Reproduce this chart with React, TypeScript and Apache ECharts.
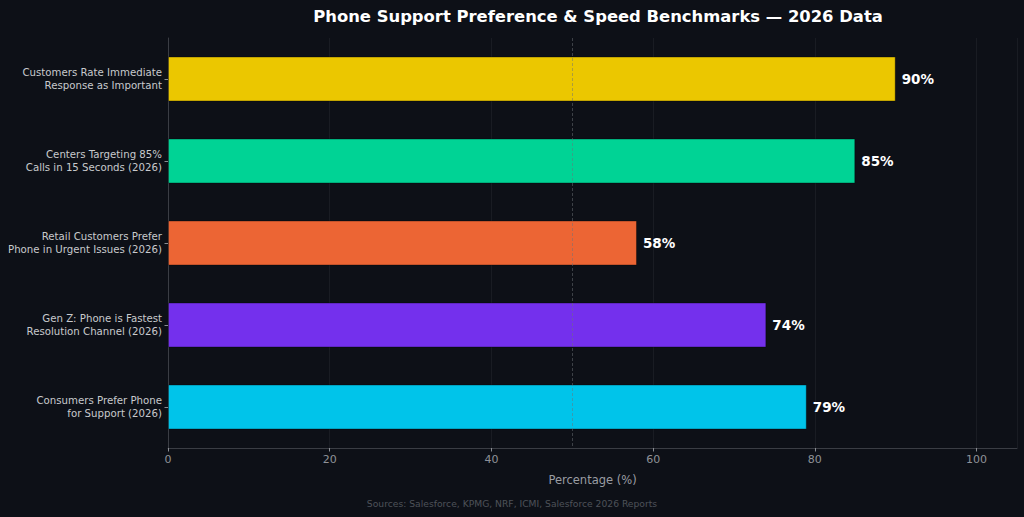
import React, { useEffect, useRef } from "react";
import * as echarts from "echarts";

const categories = [
  "Customers Rate Immediate\nResponse as Important",
  "Centers Targeting 85%\nCalls in 15 Seconds (2026)",
  "Retail Customers Prefer\nPhone in Urgent Issues (2026)",
  "Gen Z: Phone is Fastest\nResolution Channel (2026)",
  "Consumers Prefer Phone\nfor Support (2026)",
];
const values = [90, 85, 58, 74, 79];
const colors = ["#ebc700", "#00d395", "#ec6534", "#7430ed", "#00c4ea"];
const xTicks = [0, 20, 40, 60, 80, 100];
const referenceValue = 50;
const titleText = "Phone Support Preference & Speed Benchmarks — 2026 Data";
const xAxisTitle = "Percentage (%)";
const sourceText = "Sources: Salesforce, KPMG, NRF, ICMI, Salesforce 2026 Reports";

const FONT = "DejaVu Sans, sans-serif";

export default function App() {
  const ref = useRef<HTMLDivElement>(null);
  useEffect(() => {
    document.body.style.margin = "0";
    const chart = echarts.init(ref.current!, null, { renderer: "svg" });
    chart.setOption({
      animation: false,
      backgroundColor: "#0d1017",
      textStyle: { fontFamily: FONT },
      title: {
        text: titleText,
        left: 593,
        top: 3,
        textAlign: "center",
        textStyle: { color: "#ffffff", fontSize: 16.4, fontWeight: "bold", fontFamily: FONT },
      },
      grid: { left: 168, right: 7, top: 38, bottom: 69, containLabel: false, outerBoundsMode: "none" },
      xAxis: {
        type: "value",
        min: 0,
        max: 105,
        interval: 20,
        name: xAxisTitle,
        nameLocation: "middle",
        nameGap: 26,
        nameTextStyle: { color: "#9a9da3", fontSize: 11.5, fontFamily: FONT },
        axisLine: { show: true, lineStyle: { color: "#3a3d44", width: 1 } },
        axisTick: { show: true, length: 3.5, lineStyle: { color: "#8a8d93" } },
        axisLabel: {
          color: "#8f9298",
          fontSize: 11,
          margin: 6,
          showMaxLabel: false,
          fontFamily: FONT,
          formatter: (v: number) => (xTicks.includes(v) ? String(v) : ""),
        },
        splitLine: { show: true, lineStyle: { color: "#191c23", width: 1 } },
      },
      yAxis: {
        type: "category",
        data: categories,
        inverse: true,
        axisLine: { show: true, lineStyle: { color: "#3a3d44", width: 1 } },
        axisTick: { show: true, alignWithLabel: true, length: 3.5, lineStyle: { color: "#8a8d93" } },
        axisLabel: {
          color: "#c8cacd",
          fontSize: 10.2,
          lineHeight: 13,
          margin: 6,
          align: "right",
          padding: [3, 0, 0, 0],
          fontFamily: FONT,
        },
        splitLine: { show: false },
      },
      series: [
        {
          type: "bar",
          data: values.map((v, i) => ({
            value: v,
            itemStyle: { color: colors[i], borderColor: "rgba(0,0,0,0.35)", borderWidth: 1 },
          })),
          barWidth: 45,
          label: {
            show: true,
            position: "right",
            distance: 6,
            formatter: "{c}%",
            color: "#ffffff",
            fontSize: 13.5,
            fontWeight: "bold",
            fontFamily: FONT,
          },
          markLine: {
            silent: true,
            symbol: "none",
            label: { show: false },
            lineStyle: { color: "rgba(110,114,120,0.5)", type: [3, 2], width: 1 },
            data: [{ xAxis: referenceValue }],
            z: 10,
          },
        },
      ],
      graphic: [
        {
          type: "text",
          left: "center",
          top: 499,
          style: { text: sourceText, fill: "#4e5259", fontSize: 9.2, fontFamily: FONT },
        },
      ],
    });
    return () => chart.dispose();
  }, []);
  return <div ref={ref} style={{ width: 1024, height: 517 }} />;
}
